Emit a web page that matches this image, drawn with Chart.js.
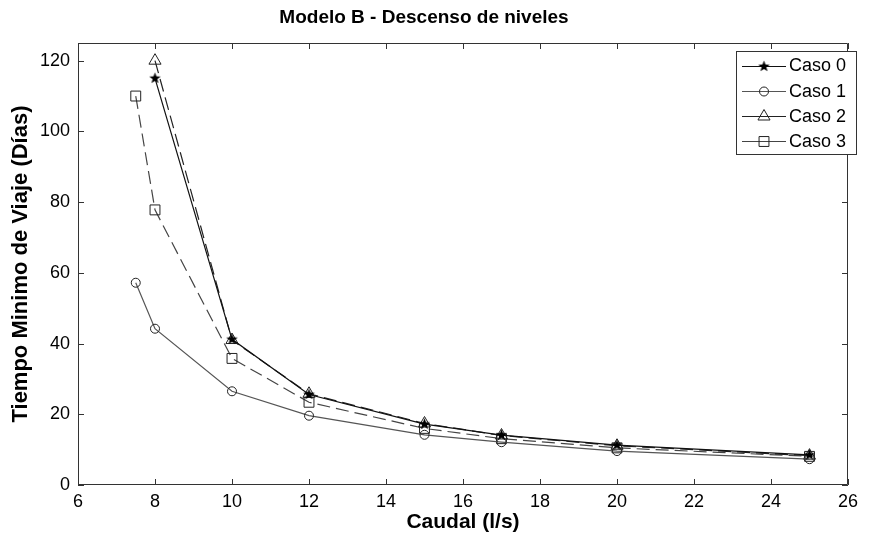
<!DOCTYPE html>
<html>
<head>
<meta charset="utf-8">
<script src="https://cdn.jsdelivr.net/npm/chart.js@4.4.1/dist/chart.umd.min.js"></script>
<style>
  html, body { margin: 0; padding: 0; background: #fff; }
  #wrap { width: 874px; height: 535px; }
</style>
</head>
<body>
<div id="wrap"><canvas id="grafico"></canvas></div>
<script>
// datos
const caudalA = [8, 10, 12, 15, 17, 20, 25];
const caudalB = [7.5, 8, 10, 12, 15, 17, 20, 25];
const caso0 = [115, 41.2, 25.6, 17.2, 14.1, 11.3, 8.5];
const caso1 = [57.2, 44.2, 26.5, 19.6, 14.2, 12.1, 9.6, 7.3];
const caso2 = [120, 41, 25.8, 17.4, 14, 11.1, 8.3];
const caso3 = [110, 77.8, 35.8, 23.4, 16, 13.1, 10.5, 8.1];
const nombres = ['Caso 0', 'Caso 1', 'Caso 2', 'Caso 3'];
const xTicks = [6, 8, 10, 12, 14, 16, 18, 20, 22, 24, 26];
const yTicks = [0, 20, 40, 60, 80, 100, 120];

const fuente = "'Liberation Sans', Arial, Helvetica, sans-serif";

function pares(xs, ys) {
    return xs.map((x, i) => ({ x: x, y: ys[i] }));
}

// estrella rellena (pentagrama) como marcador
function estrella() {
    const c = document.createElement('canvas');
    c.width = 13; c.height = 13;
    const g = c.getContext('2d');
    g.fillStyle = '#000';
    g.beginPath();
    for (let i = 0; i < 10; i++) {
        const r = i % 2 === 0 ? 6 : 2.5;
        const a = -Math.PI / 2 + i * Math.PI / 5;
        const px = 6.5 + r * Math.cos(a), py = 6.5 + r * Math.sin(a);
        if (i === 0) g.moveTo(px, py); else g.lineTo(px, py);
    }
    g.closePath();
    g.fill();
    return c;
}
const marcaEstrella = estrella();

// ejes tipo MATLAB: caja y marcas hacia adentro
const cajaPlugin = {
    id: 'caja',
    beforeDatasetsDraw(chart) {
        const { ctx, chartArea: a, scales } = chart;
        ctx.save();
        ctx.strokeStyle = '#333';
        ctx.lineWidth = 1;
        ctx.beginPath();
        ctx.rect(a.left + 0.5, a.top + 0.5, a.right - a.left - 1, a.bottom - a.top - 1);
        xTicks.forEach(v => {
            const px = Math.round(scales.x.getPixelForValue(v)) + 0.5;
            ctx.moveTo(px, a.bottom); ctx.lineTo(px, a.bottom - 6);
            ctx.moveTo(px, a.top); ctx.lineTo(px, a.top + 6);
        });
        yTicks.forEach(v => {
            const py = Math.round(scales.y.getPixelForValue(v)) + 0.5;
            ctx.moveTo(a.left, py); ctx.lineTo(a.left + 6, py);
            ctx.moveTo(a.right, py); ctx.lineTo(a.right - 6, py);
        });
        ctx.stroke();
        ctx.restore();
    }
};

// leyenda con linea + marcador
const leyendaPlugin = {
    id: 'leyenda',
    afterDraw(chart) {
        const ctx = chart.ctx;
        const x0 = 736, y0 = 51, w = 120, h = 103;
        ctx.save();
        ctx.fillStyle = '#fff';
        ctx.fillRect(x0, y0, w, h);
        ctx.strokeStyle = '#333';
        ctx.lineWidth = 1;
        ctx.strokeRect(x0 + 0.5, y0 + 0.5, w, h);
        chart.data.datasets.forEach((ds, i) => {
            const y = y0 + 14.5 + i * 25.3;
            ctx.strokeStyle = ds.borderColor;
            ctx.lineWidth = 1;
            ctx.setLineDash([]);
            ctx.beginPath();
            ctx.moveTo(742, Math.round(y) + 0.5);
            ctx.lineTo(786, Math.round(y) + 0.5);
            ctx.stroke();
            if (Chart.helpers && Chart.helpers.drawPoint) {
                ctx.fillStyle = 'rgba(0,0,0,0)';
                ctx.strokeStyle = ds.pointBorderColor;
                Chart.helpers.drawPoint(ctx, {
                    pointStyle: ds.pointStyle,
                    radius: ds.pointRadius,
                    borderWidth: 1
                }, 764, Math.round(y) + 0.5);
            }
            ctx.fillStyle = '#000';
            ctx.font = '18px ' + fuente;
            ctx.textBaseline = 'middle';
            ctx.fillText(ds.label, 789, y + 1);
        });
        ctx.restore();
    }
};

function serie(nombre, datos, color, dash, estilo, radio) {
    return {
        label: nombre,
        data: datos,
        showLine: true,
        borderColor: color,
        borderWidth: 1.2,
        borderDash: dash,
        pointStyle: estilo,
        pointRadius: radio,
        pointHoverRadius: radio,
        pointBorderColor: '#222',
        pointBackgroundColor: 'rgba(0,0,0,0)',
        pointBorderWidth: 1,
        tension: 0
    };
}

new Chart(document.getElementById('grafico'), {
    type: 'scatter',
    data: {
        datasets: [
            serie(nombres[0], pares(caudalA, caso0), '#111', [], marcaEstrella, 6),
            serie(nombres[1], pares(caudalB, caso1), '#555', [], 'circle', 4.5),
            serie(nombres[2], pares(caudalA, caso2), '#222', [13, 6], 'triangle', 7),
            serie(nombres[3], pares(caudalB, caso3), '#444', [13, 6], 'rect', 7)
        ]
    },
    options: {
        responsive: true,
        maintainAspectRatio: false,
        animation: false,
        layout: { padding: { top: 0, right: 26, bottom: 0, left: 0 } },
        plugins: {
            legend: { display: false },
            tooltip: { enabled: false },
            title: {
                display: true,
                text: 'Modelo B - Descenso de niveles',
                color: '#000',
                font: { family: fuente, size: 19, weight: 'bold' },
                padding: { top: 6, bottom: 14.2 }
            }
        },
        scales: {
            x: {
                type: 'linear',
                min: 6,
                max: 26,
                afterFit: s => { s.height = 50; },
                afterBuildTicks: s => { s.ticks = xTicks.map(v => ({ value: v })); },
                grid: { display: false, drawTicks: false },
                border: { display: false },
                ticks: { color: '#000', padding: 6, font: { family: fuente, size: 18 } },
                title: {
                    display: true,
                    text: 'Caudal (l/s)',
                    color: '#000',
                    font: { family: fuente, size: 21, weight: 'bold' },
                    padding: { top: 0, bottom: 0 }
                }
            },
            y: {
                type: 'linear',
                min: 0,
                max: 125,
                afterFit: s => { s.width = 78; },
                afterBuildTicks: s => { s.ticks = yTicks.map(v => ({ value: v })); },
                grid: { display: false, drawTicks: false },
                border: { display: false },
                ticks: { color: '#000', padding: 8, font: { family: fuente, size: 18 } },
                title: {
                    display: true,
                    text: 'Tiempo Minimo de Viaje (Días)',
                    color: '#000',
                    font: { family: fuente, size: 22, weight: 'bold' },
                    padding: { top: 8, bottom: 0 }
                }
            }
        }
    },
    plugins: [cajaPlugin, leyendaPlugin]
});
</script>
</body>
</html>
